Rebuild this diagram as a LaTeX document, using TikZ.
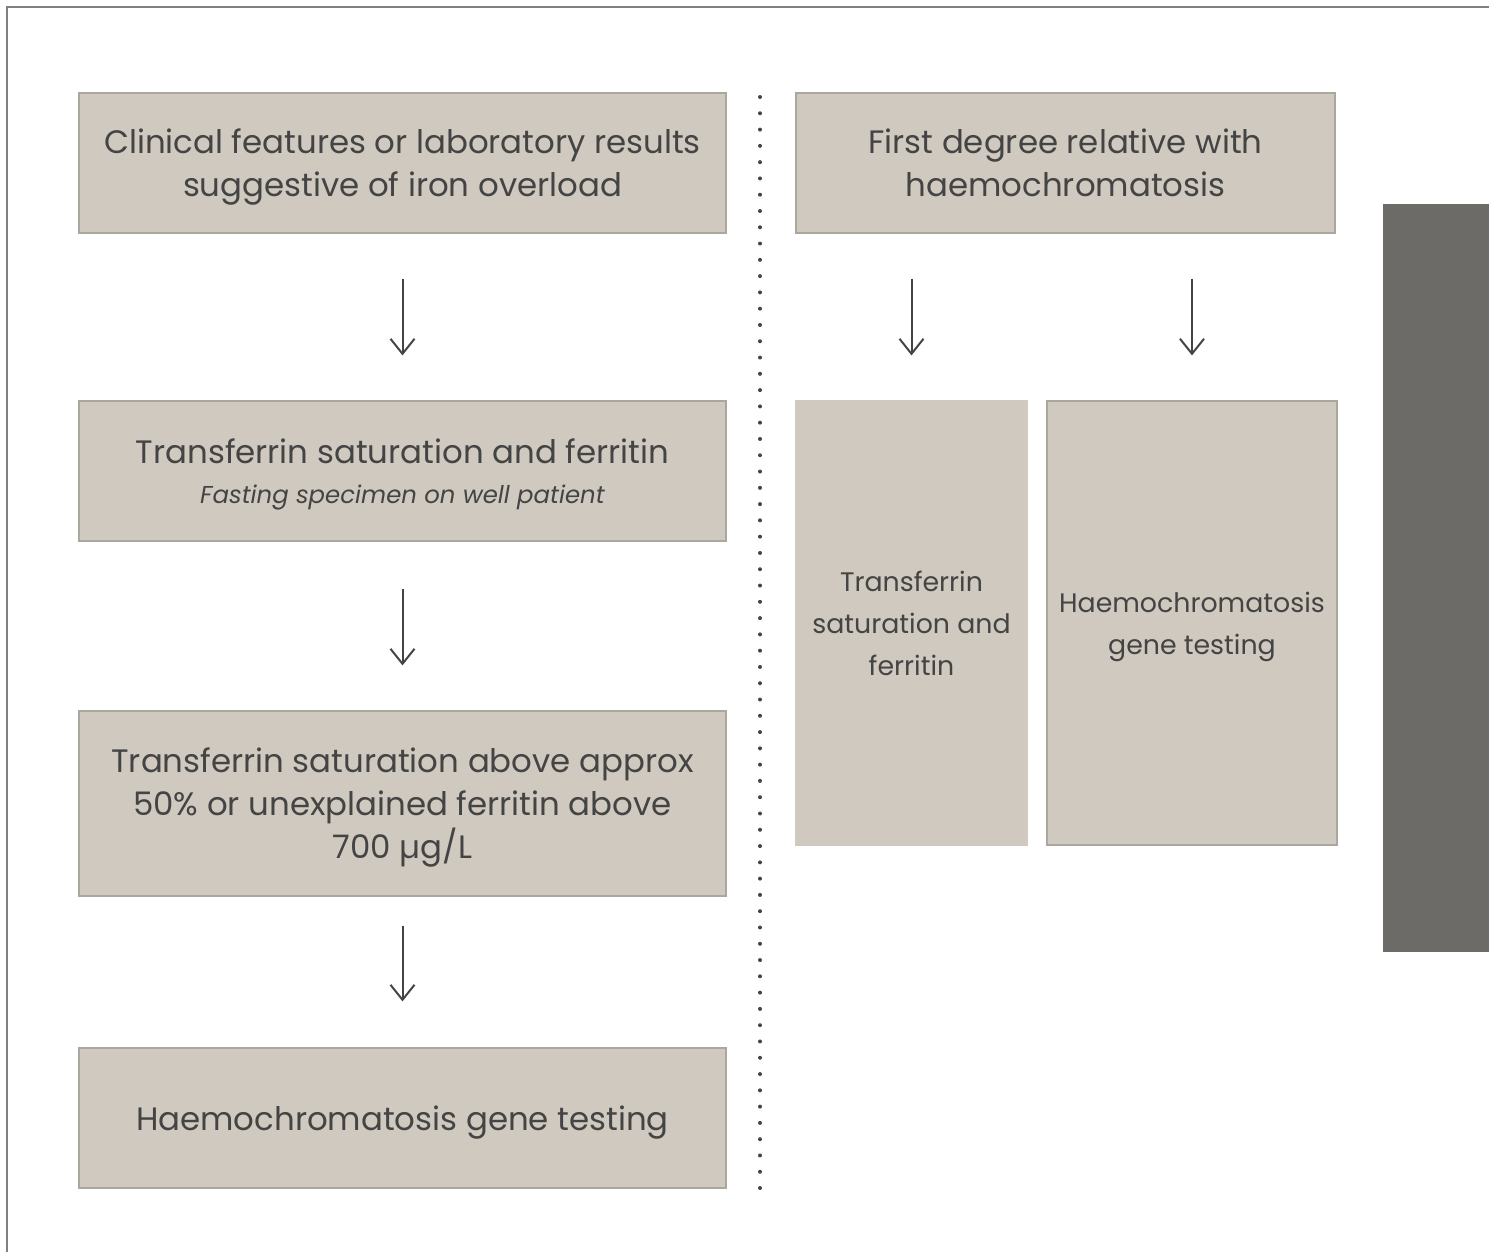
\documentclass[tikz,border=0pt]{standalone}
\usepackage{fontspec}
\setmainfont{Poppins}
\usetikzlibrary{arrows.meta, positioning}
\definecolor{boxfill}{RGB}{207,201,191}
\definecolor{boxline}{RGB}{172,167,158}
\definecolor{inkgrey}{RGB}{68,68,68}
\definecolor{bargrey}{RGB}{108,107,103}
\definecolor{framegrey}{RGB}{128,128,128}

\begin{document}
\begin{tikzpicture}[
  x=0.5pt, y=-0.5pt,
  fbox/.style={rectangle, draw=boxline, line width=0.6pt, fill=boxfill, text=inkgrey,
               align=center, inner sep=0pt, text depth=0pt, font=\fontsize{16.2}{21.5}\selectfont},
  sbox/.style={rectangle, draw=boxline, line width=0.6pt, fill=boxfill, text=inkgrey,
               align=center, inner sep=0pt, font=\fontsize{13.4}{21}\selectfont},
  arrow/.style={-{Straight Barb[length=7.5pt, width=12pt]}, line width=1pt, color=inkgrey}
]
\useasboundingbox (0,0) rectangle (1489,1252);
\draw[framegrey, line width=1pt] (1489,7) -- (7,7) -- (7,1252);

% left column
\node[fbox, minimum width=323.5pt, minimum height=70pt] (clin) at (402.5,163)
  {Clinical features or laboratory results\\suggestive of iron overload};
\node[fbox, minimum width=323.5pt, minimum height=70pt] (tsf) at (402.5,471)
  {Transferrin saturation and ferritin\\[-1.5pt]{\fontsize{12.2}{14}\selectfont\itshape Fasting specimen on well patient}};
\node[fbox, minimum width=323.5pt, minimum height=92.5pt] (high) at (402.5,803.5)
  {Transferrin saturation above approx\\50\% or unexplained ferritin above\\700 µg/L};
\node[fbox, minimum width=323.5pt, minimum height=70pt] (gene) at (402.5,1118)
  {Haemochromatosis gene testing};

\draw[arrow, shorten <=22.5pt, shorten >=22.5pt] (clin) -- (tsf);
\draw[arrow, shorten <=23.5pt, shorten >=22.5pt] (tsf) -- (high);
\draw[arrow, shorten <=14.5pt, shorten >=23pt] (high) -- (gene);

% divider
\draw[inkgrey, line width=2pt, line cap=round, dash pattern=on 0pt off 8.142pt] (760,97) -- (760,1190);

% right column
\node[fbox, minimum width=269.5pt, minimum height=70pt] (rel) at (1065.5,163)
  {First degree relative with\\haemochromatosis};
\node[sbox, draw=boxfill, minimum width=115.5pt, minimum height=222pt] (rtsf) at (911.5,623)
  {Transferrin\\saturation and\\ferritin};
\node[sbox, text depth=0pt, minimum width=145pt, minimum height=222pt] (rgene) at (1192,623)
  {Haemochromatosis\\gene testing};

\draw[arrow, shorten <=22.5pt, shorten >=22.5pt] (rtsf.north |- rel.south) -- (rtsf.north);
\draw[arrow, shorten <=22.5pt, shorten >=22.5pt] (rgene.north |- rel.south) -- (rgene.north);

\fill[bargrey] (1383,204) rectangle (1489,952);
\end{tikzpicture}
\end{document}
